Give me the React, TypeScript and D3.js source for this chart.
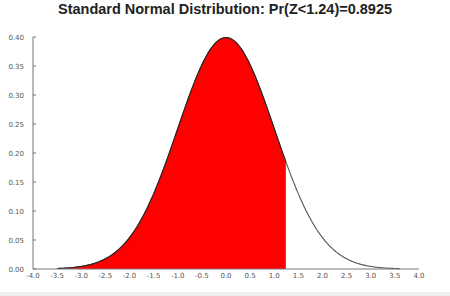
import React from "react";
import * as d3 from "d3";

const titleText = "Standard Normal Distribution: Pr(Z<1.24)=0.8925";
const zCut = 1.24;
const xTicks = [-4.0, -3.5, -3.0, -2.5, -2.0, -1.5, -1.0, -0.5, 0.0, 0.5, 1.0, 1.5, 2.0, 2.5, 3.0, 3.5, 4.0];
const yTicks = [0.0, 0.05, 0.1, 0.15, 0.2, 0.25, 0.3, 0.35, 0.4];
const curveStart = -3.5;
const curveEnd = 3.6;

const W = 450;
const H = 296;

function pdf(z: number) {
  return Math.exp(-0.5 * z * z) / Math.sqrt(2 * Math.PI);
}

export default function App() {
  const x = d3.scaleLinear().domain([-4, 4]).range([33, 419]);
  const y = d3.scaleLinear().domain([0, 0.4]).range([269, 37]);

  const pts: number[] = d3.range(curveStart, curveEnd + 1e-9, 0.02);
  const fillPts = pts.filter((p) => p <= zCut).concat([zCut]);

  const line = d3
    .line<number>()
    .x((d) => x(d))
    .y((d) => y(pdf(d)))
    .curve(d3.curveLinear);
  const area = d3
    .area<number>()
    .x((d) => x(d))
    .y0(y(0))
    .y1((d) => y(pdf(d)));

  return (
    <svg
      width={W}
      height={H}
      style={{ position: "absolute", left: 0, top: 0, background: "#fff" }}
      fontFamily="'DejaVu Sans', sans-serif"
    >
      <rect x={0} y={0} width={W} height={H} fill="#fff" />
      <rect x={0} y={292} width={W} height={4} fill="#f0f0f0" />
      <text
        x={58}
        y={14}
        textLength={334}
        lengthAdjust="spacingAndGlyphs"
        fontFamily="'Liberation Sans', Arial, sans-serif"
        fontWeight="bold"
        fontSize={14.5}
        fill="#222"
      >
        {titleText}
      </text>

      <path d={area(fillPts) || ""} fill="#ff0000" />
      <path d={line(pts) || ""} fill="none" stroke="#555" strokeWidth={1.1} />
      <path
        d={line(fillPts) || ""}
        fill="none"
        stroke="#3a1a1a"
        strokeWidth={1.1}
      />

      {/* y axis */}
      <line x1={x(-4)} x2={x(-4)} y1={y(0.4)} y2={y(0)} stroke="#777" strokeWidth={1} />
      {yTicks.map((t) => (
        <g key={"y" + t}>
          <line x1={x(-4)} x2={x(-4) + 3} y1={y(t)} y2={y(t)} stroke="#777" strokeWidth={1} />
          <text x={x(-4) - 9} y={y(t) + 2.5} textAnchor="end" fontSize={7} fill="#555">
            {t.toFixed(2)}
          </text>
        </g>
      ))}

      {/* x axis */}
      <line x1={x(-4)} x2={x(4)} y1={y(0)} y2={y(0)} stroke="#777" strokeWidth={1} />
      {xTicks.map((t) => (
        <text key={"x" + t} x={x(t)} y={278} textAnchor="middle" fontSize={7} fill="#555">
          {t.toFixed(1)}
        </text>
      ))}
    </svg>
  );
}
